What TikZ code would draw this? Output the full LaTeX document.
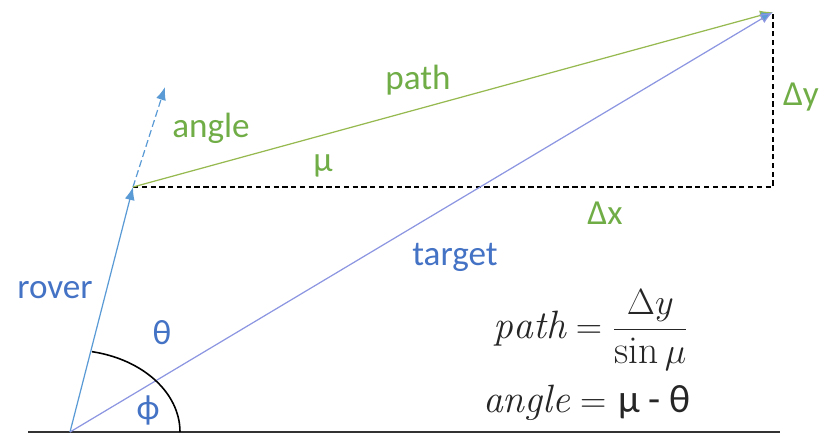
\documentclass[tikz,border=0pt]{standalone}
\usepackage{amsmath}
\usepackage{fontspec}
\setsansfont{Carlito}
\usetikzlibrary{arrows.meta}
\definecolor{lblgreen}{RGB}{112,173,71}
\definecolor{lblblue}{RGB}{68,114,196}
\definecolor{roverblue}{RGB}{91,155,213}
\definecolor{targetblue}{RGB}{140,150,225}
\definecolor{pathgreen}{RGB}{150,185,80}
\begin{document}
\begin{tikzpicture}[x=0.02cm, y=-0.02cm,
        vec/.style={line width=0.7pt, -{Latex[length=2.6mm, width=2mm]}},
        helper/.style={line width=0.9pt, black, dashed, dash pattern=on 3pt off 2pt},
        glabel/.style={font=\sffamily\fontsize{20}{24}\selectfont, text=lblgreen},
        blabel/.style={font=\sffamily\fontsize{20}{24}\selectfont, text=lblblue},
        formula/.style={font=\fontsize{22.5}{27}\selectfont, text=black!85}
    ]
        \useasboundingbox (0,0) rectangle (826,434);
        \coordinate (O) at (70,432);
        \coordinate (R) at (133,187);
        \coordinate (A) at (165,87);
        \coordinate (T) at (773,12);
        \coordinate (C) at (773,187);
        \coordinate (G1) at (28,432);
        \coordinate (G2) at (780,432);

        \draw[line width=1.4pt, black!80] (G1)--(G2);
        \draw[helper] (R)--(C)--(T);
        \draw[vec, roverblue] (O)--(R);
        \draw[vec, roverblue, dashed, dash pattern=on 4pt off 2pt] (R)--(A);
        \draw[vec, pathgreen, -{Latex[length=2.6mm, width=2mm, fill=roverblue]}] (R)--(T);
        \draw[vec, targetblue, -{Latex[length=2.6mm, width=2mm, fill=roverblue]}] (O)--(T);
        \draw[line width=0.9pt, black] (180,432) arc[start angle=0, end angle=78.5, x radius=110, y radius=-82];

        \node[glabel] (pathlbl) at (418,80) {path};
        \node[glabel] (anglelbl) at (211,128) {angle};
        \node[glabel] (mulbl) at (323,166) {μ};
        \node[glabel] (dylbl) at (801,97) {Δy};
        \node[glabel] (dxlbl) at (605,213) {Δx};
        \node[blabel] (targetlbl) at (455,257) {target};
        \node[blabel] (roverlbl) at (55,290) {rover};
        \node[blabel] (thetalbl) at (162,333) {θ};
        \node[blabel] (philbl) at (148,410) {ϕ};
        \node[formula] (f1) at (591,330) {$\mathit{path}=\dfrac{\Delta y}{\sin\mu}$};
        \node[formula] (f2) at (587,403) {$\mathit{angle}=$ \textsf{μ - θ}};
    \end{tikzpicture}
\end{document}
